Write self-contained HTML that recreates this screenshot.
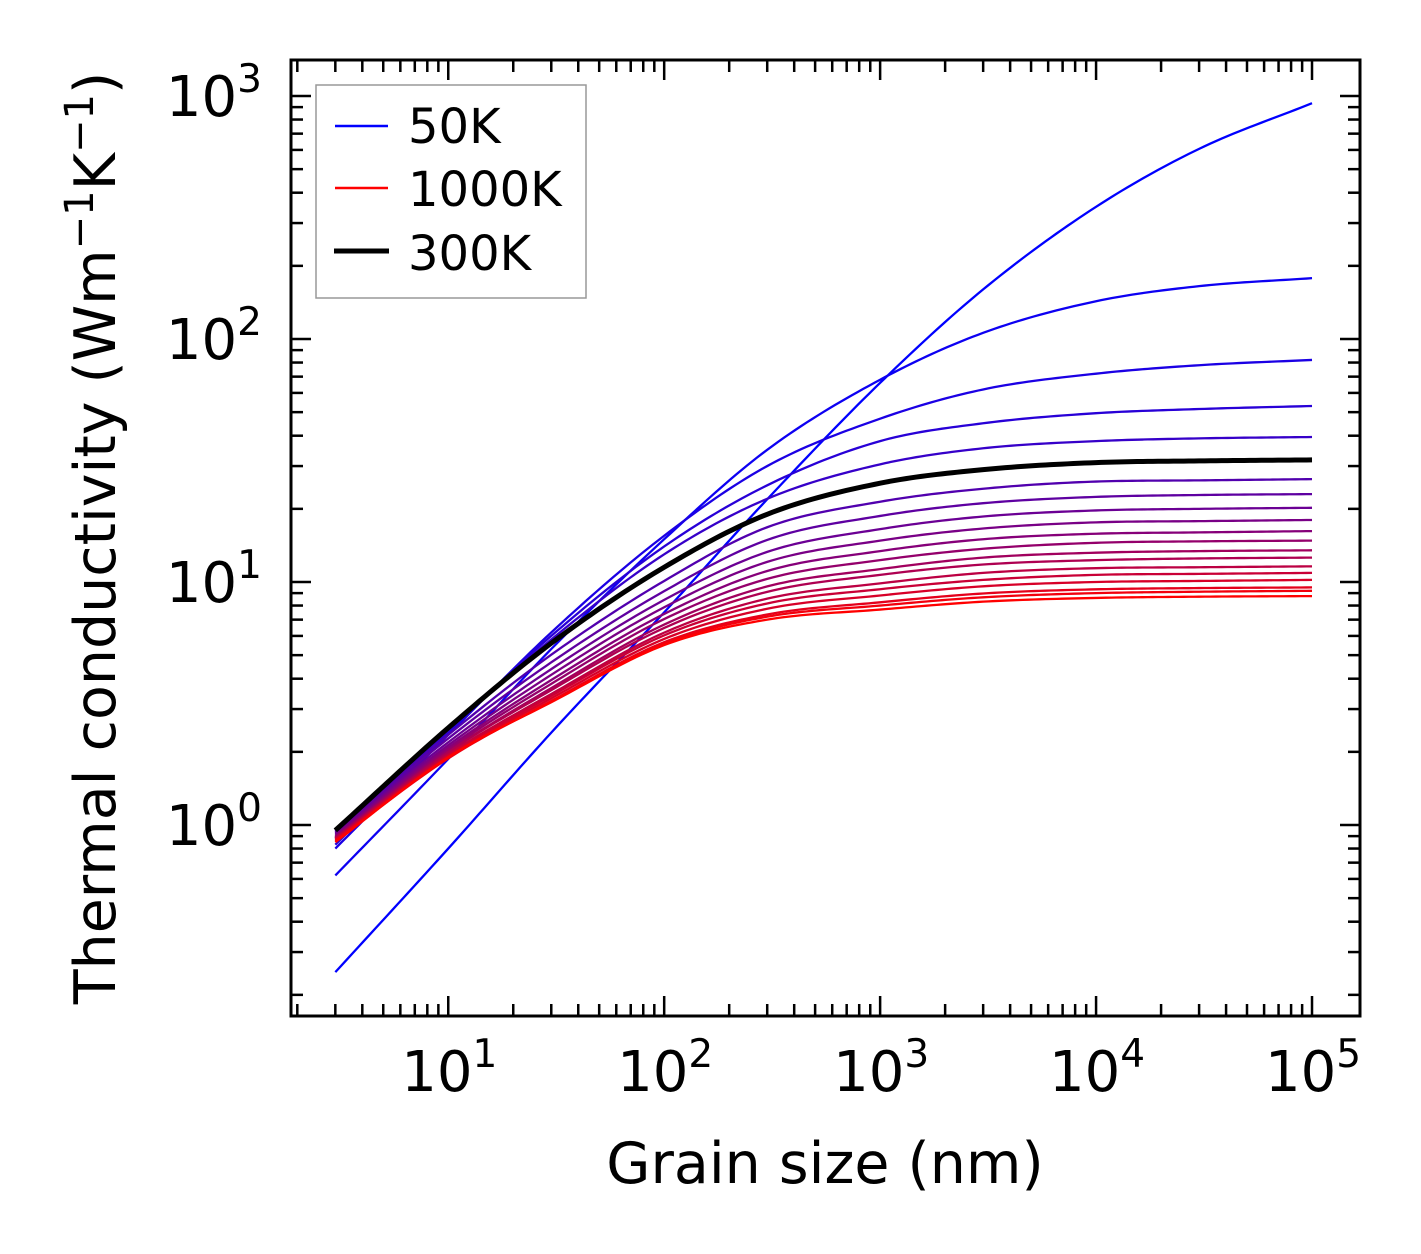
<!DOCTYPE html>
<html><head><meta charset="utf-8"><style>
html,body{margin:0;padding:0;background:#fff;}
svg{display:block;font-family:"DejaVu Sans","Liberation Sans",sans-serif;}
</style></head><body>
<svg id="chart" width="1421" height="1254" viewBox="0 0 1421 1254" xmlns="http://www.w3.org/2000/svg">
<rect width="1421" height="1254" fill="#fff"/>
<g id="curves"></g>
<g id="ticks"></g>
<rect x="291" y="60" width="1069" height="956" fill="none" stroke="#000" stroke-width="3"/>
<g id="xlabels"></g>
<g id="ylabels"></g>
<text x="825" y="1183" font-size="57" text-anchor="middle">Grain size (nm)</text>
<text transform="translate(115,538) rotate(-90)" font-size="57" text-anchor="middle">Thermal conductivity (Wm<tspan font-size="40" dy="-22">−1</tspan><tspan dy="22">K</tspan><tspan font-size="40" dy="-22">−1</tspan><tspan dy="22">)</tspan></text>
<g>
<rect x="316" y="85" width="270" height="213" fill="#fff" stroke="#999" stroke-width="1.5"/>
<line x1="335" y1="126" x2="388" y2="126" stroke="#0000ff" stroke-width="2.5"/>
<text x="408" y="143" font-size="48">50K</text>
<line x1="335" y1="188" x2="388" y2="188" stroke="#ff0000" stroke-width="2.5"/>
<text x="408" y="206" font-size="48">1000K</text>
<line x1="334" y1="251" x2="389" y2="251" stroke="#000" stroke-width="5"/>
<text x="408" y="270" font-size="48">300K</text>
</g>
</svg>
<script>
const grainSizes = [3,10,30,100,300,1000,3000,10000,30000,100000];
const k50 = [0.248,0.80,2.40,7.5,21.9,66,160,350,606,934];
const kT2 = [0.62,1.87,5.3,15,35,68,106,143,165,178];
const kT3 = [0.80,2.35,6.2,15.5,30,47,62,72,78,82];
const kT4 = [0.83,2.4,6.0,14,25,38,45,49.5,51.5,53];
const kT5 = [0.88,2.45,5.8,13,22,30.5,35.5,38,39,39.5];
const k300 = [0.95,2.51,5.6,11.5,19,25.5,29,31,31.5,31.8];
const kT7 = [0.94,2.35,5.02,10.1,16.8,21.4,24.2,25.9,26.2,26.5];
const kT8 = [0.93,2.27,4.67,9.17,14.9,18.7,21.1,22.4,22.8,23.0];
const kT9 = [0.92,2.19,4.38,8.44,13.3,16.5,18.6,19.7,20.0,20.2];
const kT10 = [0.91,2.13,4.15,7.87,12.1,14.8,16.6,17.6,17.8,18.0];
const kT11 = [0.90,2.08,3.95,7.39,11.1,13.4,15.0,15.8,16.0,16.2];
const kT12 = [0.89,2.04,3.81,7.04,10.3,12.3,13.7,14.5,14.7,14.8];
const kT13 = [0.89,2.00,3.66,6.68,9.59,11.3,12.6,13.2,13.4,13.5];
const kT14 = [0.88,1.99,3.59,6.47,9.11,10.7,11.8,12.3,12.5,12.6];
const kT15 = [0.88,1.95,3.46,6.19,8.54,9.87,10.9,11.4,11.5,11.6];
const kT16 = [0.87,1.94,3.40,6.03,8.16,9.34,10.2,10.7,10.8,10.9];
const kT17 = [0.87,1.91,3.32,5.83,7.76,8.80,9.60,10.0,10.1,10.2];
const kT18 = [0.86,1.88,3.24,5.65,7.35,8.25,8.97,9.33,9.44,9.5];
const kT19 = [0.86,1.89,3.22,5.58,7.20,8.00,8.65,9.0,9.12,9.2];
const k1000 = [0.85,1.90,3.2,5.5,7.0,7.7,8.3,8.6,8.7,8.75];
const series = [k50,kT2,kT3,kT4,kT5,k300,kT7,kT8,kT9,kT10,kT11,kT12,kT13,kT14,kT15,kT16,kT17,kT18,kT19,k1000];
const xTickExps = [1,2,3,4,5];
const yTickExps = [0,1,2,3];

const NS = "http://www.w3.org/2000/svg";
const X0=291,X1=1360,Y0=60,Y1=1016;
const xLmin=Math.log10(1.87), xLmax=5+48/216;
const yLmin=-191/243, yLmax=3+36/243;
function xs(v){return X0+(Math.log10(v)-xLmin)/(xLmax-xLmin)*(X1-X0);}
function ys(v){return Y1-(Math.log10(v)-yLmin)/(yLmax-yLmin)*(Y1-Y0);}
function mk(tag,attrs,parent){const e=document.createElementNS(NS,tag);for(const k in attrs)e.setAttribute(k,attrs[k]);parent.appendChild(e);return e;}
function pathFor(vals){
  const X=grainSizes.map(g=>Math.log10(g)), Y=vals.map(v=>Math.log10(v));
  const n=X.length, d=[], m=[];
  for(let i=0;i<n-1;i++) d.push((Y[i+1]-Y[i])/(X[i+1]-X[i]));
  m[0]=d[0]; m[n-1]=d[n-2];
  for(let i=1;i<n-1;i++){ m[i]=(d[i-1]*d[i]<=0)?0:(d[i-1]+d[i])/2; }
  for(let i=0;i<n-1;i++){
    if(d[i]===0){m[i]=0;m[i+1]=0;continue;}
    const a=m[i]/d[i], b=m[i+1]/d[i], s=a*a+b*b;
    if(s>9){const t=3/Math.sqrt(s);m[i]=t*a*d[i];m[i+1]=t*b*d[i];}
  }
  let pts=[];
  for(let i=0;i<n-1;i++){
    const h=X[i+1]-X[i];
    for(let j=0;j<20;j++){
      const t=j/20, t2=t*t, t3=t2*t;
      const y=(2*t3-3*t2+1)*Y[i]+(t3-2*t2+t)*h*m[i]+(-2*t3+3*t2)*Y[i+1]+(t3-t2)*h*m[i+1];
      const x=X[i]+t*h;
      pts.push([xs(Math.pow(10,x)),ys(Math.pow(10,y))]);
    }
  }
  pts.push([xs(grainSizes[n-1]),ys(vals[n-1])]);
  return "M"+pts.map(p=>p[0].toFixed(2)+","+p[1].toFixed(2)).join(" L");
}
const cg=document.getElementById("curves");
const N=series.length;
series.forEach((vals,i)=>{
  const t=i/(N-1);
  const col="rgb("+Math.round(255*t)+",0,"+Math.round(255*(1-t))+")";
  const el=mk("path",{d:pathFor(vals),fill:"none",stroke:col,"stroke-width":2.3,"stroke-linejoin":"round"},cg);
  
  
});
const blk=mk("path",{d:pathFor(k300),fill:"none",stroke:"#000","stroke-width":5,"stroke-linejoin":"round"},cg);



const tg=document.getElementById("ticks");
function tick(x1,y1,x2,y2){const t=mk("line",{x1:x1,y1:y1,x2:x2,y2:y2,stroke:"#000","stroke-width":2.5},tg);

}
for(let e=0;e<=5;e++){for(let m=1;m<10;m++){const v=m*Math.pow(10,e);if(v<1.87||v>Math.pow(10,xLmax))continue;const x=xs(v);const L=m===1?20:12;tick(x,Y1,x,Y1-L);tick(x,Y0,x,Y0+L);}}
for(let e=-1;e<=3;e++){for(let m=1;m<10;m++){const v=m*Math.pow(10,e);if(Math.log10(v)<yLmin||Math.log10(v)>yLmax)continue;const y=ys(v);const L=m===1?20:12;tick(X0,y,X0+L,y);tick(X1,y,X1-L,y);}}

const xl=document.getElementById("xlabels");
xTickExps.forEach(e=>{
  const t=mk("text",{x:xs(Math.pow(10,e))+1,y:1091,"font-size":56,"text-anchor":"middle"},xl);
  
  
  t.innerHTML='10<tspan font-size="39" dy="-24">'+e+'</tspan>';
});
const yl=document.getElementById("ylabels");
yTickExps.forEach(e=>{
  const t=mk("text",{x:262,y:ys(Math.pow(10,e))+20,"font-size":56,"text-anchor":"end"},yl);
  
  
  t.innerHTML='10<tspan font-size="39" dy="-24">'+e+'</tspan>';
});
</script>
</body></html>
